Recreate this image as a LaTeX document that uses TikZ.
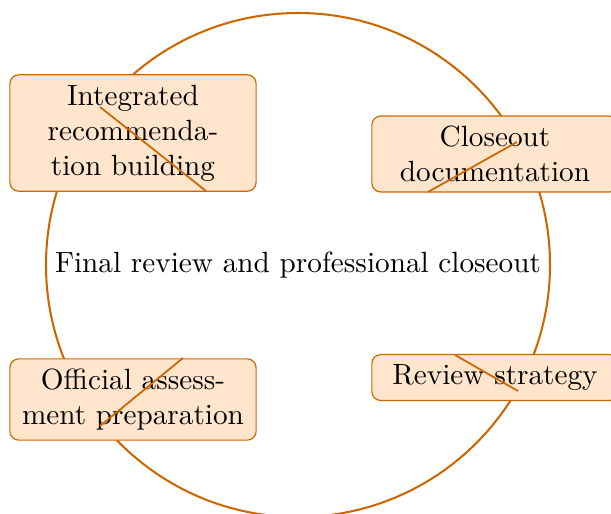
\documentclass[tikz,border=0pt]{standalone}
\begin{document}
\begin{tikzpicture}[x=0.342pt,y=-0.342pt,
  ringline/.style={draw=orange!80!black, line width=0.7pt},
  stage/.style={draw=orange!80!black, fill=orange!20, rounded corners=3pt,
    text width=78pt, align=center, inner xsep=3.1pt, inner ysep=3.4pt, line width=0.4pt},
  tick/.style={draw=orange!80!black, line width=0.6pt}]
\useasboundingbox (0,0) rectangle (611,513);
\node[circle, minimum size=504*0.342pt, ringline, inner sep=0pt] (ring) at (298,265) {};
\node (title) at (298,265) {Final review and professional closeout};
\node[stage] (n1) at (133,133) {Integrated\\ recommenda-\\tion building};
\node[stage] (n2) at (495,154) {Closeout\\ documentation};
\node[stage] (n3) at (133,399.5) {Official assess-\\ment preparation};
\node[stage] (n4) at (495,377.5) {Review strategy};
\coordinate (a1) at (100,107); \coordinate (b1) at (206,191);
\coordinate (a2) at (517,142); \coordinate (b2) at (428,192);
\coordinate (a3) at (183,358); \coordinate (b3) at (100,426);
\coordinate (a4) at (455,355); \coordinate (b4) at (518,391);
\draw[tick] (a1) -- (b1);
\draw[tick] (a2) -- (b2);
\draw[tick] (a3) -- (b3);
\draw[tick] (a4) -- (b4);
\end{tikzpicture}
\end{document}
